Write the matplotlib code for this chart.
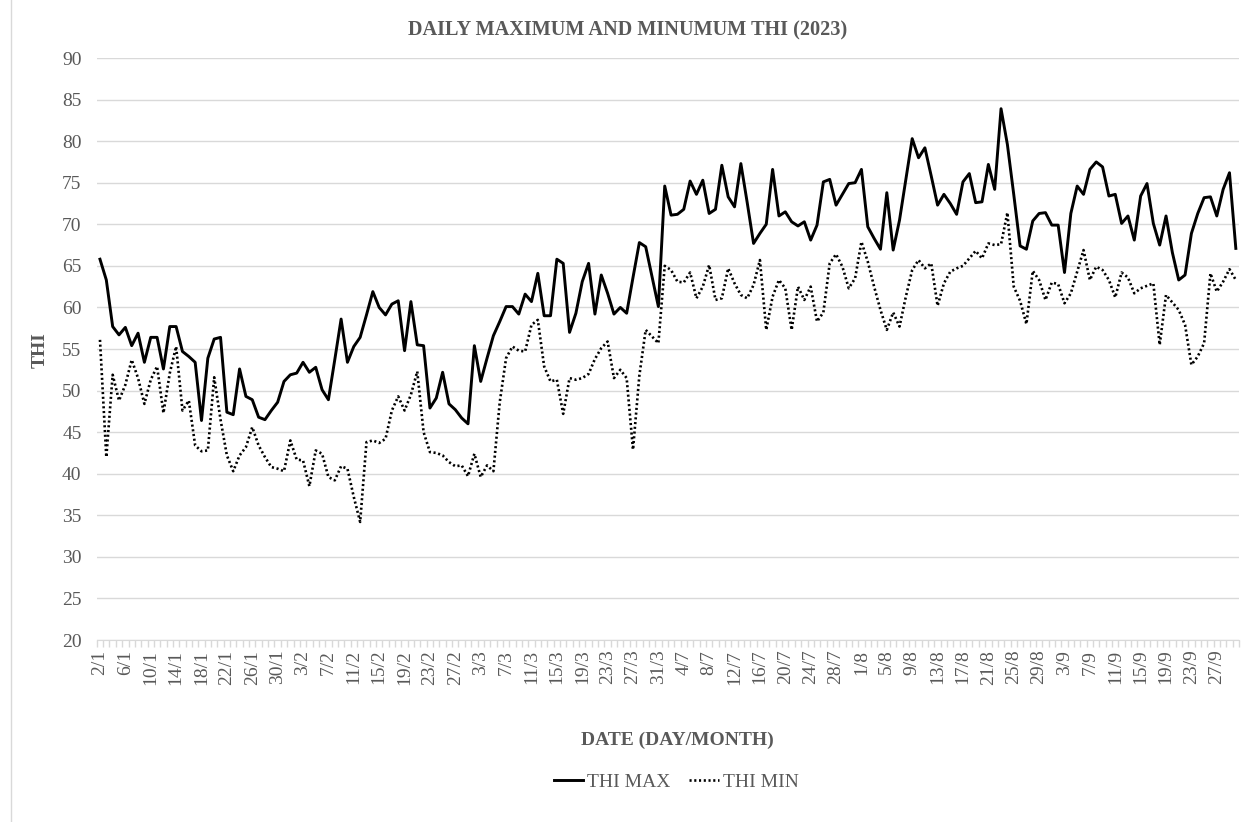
import numpy as np
import pandas as pd
import matplotlib
matplotlib.use('Agg')
import matplotlib.pyplot as plt
from matplotlib.lines import Line2D

# =============================================
# 1. DATA
# =============================================
# days covered: 2/1-31/3, 1/7-31/8, 1/9 and 3/9-30/9
date_segments = [('2023-01-02', '2023-03-31'),
                 ('2023-07-01', '2023-08-31'),
                 ('2023-09-01', '2023-09-01'),
                 ('2023-09-03', '2023-09-30')]

thi_max = [
    65.8, 63.3, 57.7, 56.7, 57.6, 55.4, 56.9, 53.4, 56.4, 56.4,
    52.6, 57.7, 57.7, 54.7, 54.1, 53.4, 46.4, 53.9, 56.2, 56.4,
    47.4, 47.1, 52.6, 49.3, 48.9, 46.8, 46.5, 47.6, 48.6, 51.1,
    51.9, 52.1, 53.4, 52.2, 52.8, 50.1, 48.9, 53.7, 58.6, 53.4,
    55.3, 56.4, 59.1, 61.9, 60.0, 59.1, 60.4, 60.8, 54.8, 60.7,
    55.5, 55.4, 47.9, 49.1, 52.2, 48.4, 47.7, 46.7, 46.0, 55.4,
    51.1, 53.9, 56.6, 58.3, 60.1, 60.1, 59.2, 61.6, 60.7, 64.1,
    59.0, 59.0, 65.8, 65.3, 57.0, 59.3, 63.1, 65.3, 59.2, 63.9,
    61.7, 59.2, 60.0, 59.3, 63.6, 67.8, 67.3, 63.7, 60.1, 74.6,
    71.1, 71.2, 71.8, 75.2, 73.6, 75.3, 71.3, 71.8, 77.1, 73.3,
    72.1, 77.3, 72.6, 67.7, 68.9, 70.0, 76.6, 71.0, 71.5, 70.3,
    69.8, 70.3, 68.1, 69.9, 75.1, 75.4, 72.3, 73.6, 74.9, 75.0,
    76.6, 69.7, 68.3, 67.0, 73.8, 66.9, 70.5, 75.4, 80.3, 78.0,
    79.2, 75.8, 72.3, 73.6, 72.5, 71.2, 75.1, 76.1, 72.6, 72.7,
    77.2, 74.2, 83.9, 79.6, 73.6, 67.4, 67.0, 70.4, 71.3, 71.4,
    69.9, 69.9, 64.2, 71.3, 74.6, 73.6, 76.6, 77.5, 76.9, 73.4,
    73.6, 70.1, 71.0, 68.1, 73.4, 74.9, 70.1, 67.5, 71.0, 66.6,
    63.3, 63.9, 68.9, 71.3, 73.2, 73.3, 71.0, 74.2, 76.2, 67.1,
]

thi_min = [
    56.1, 42.0, 51.9, 48.8, 50.7, 53.7, 51.5, 48.4, 51.3, 52.9,
    47.3, 52.1, 55.3, 47.6, 48.8, 43.4, 42.7, 42.8, 51.6, 46.5,
    42.2, 40.3, 42.2, 43.2, 45.6, 43.4, 42.0, 40.8, 40.6, 40.3,
    44.0, 41.7, 41.6, 38.5, 42.8, 42.4, 39.6, 39.2, 40.9, 40.6,
    37.2, 34.2, 43.8, 44.0, 43.7, 44.2, 47.6, 49.3, 47.6, 49.5,
    52.3, 45.0, 42.6, 42.5, 42.2, 41.4, 40.9, 41.0, 39.7, 42.4,
    39.6, 41.0, 40.3, 48.6, 53.9, 55.3, 54.8, 54.7, 57.9, 58.5,
    52.9, 51.1, 51.3, 47.2, 51.5, 51.3, 51.5, 52.0, 53.8, 55.1,
    55.9, 51.5, 52.5, 51.5, 42.9, 51.8, 57.3, 56.5, 55.7, 65.0,
    64.5, 63.1, 63.0, 64.2, 61.1, 62.5, 65.1, 60.9, 61.1, 64.7,
    62.9, 61.5, 61.1, 62.7, 65.7, 57.3, 61.3, 63.3, 62.3, 57.3,
    62.5, 60.9, 62.5, 58.3, 59.4, 65.3, 66.4, 64.9, 62.3, 63.5,
    67.9, 65.5, 62.5, 59.7, 57.3, 59.4, 57.7, 61.3, 64.5, 65.7,
    64.7, 65.3, 60.2, 62.9, 64.3, 64.7, 65.0, 65.9, 66.8, 65.9,
    67.7, 67.5, 67.6, 71.4, 62.5, 60.8, 58.0, 64.4, 63.3, 60.9,
    63.0, 62.8, 60.5, 61.7, 64.3, 66.9, 63.3, 64.9, 64.5, 63.3,
    61.2, 64.2, 63.6, 61.7, 62.3, 62.6, 62.9, 55.5, 61.5, 60.6,
    59.7, 57.9, 53.1, 54.1, 55.7, 64.1, 61.9, 63.1, 64.6, 63.3,
]

dates = pd.DatetimeIndex(np.concatenate(
    [pd.date_range(a, b).values for a, b in date_segments]))
date_labels = [f"{d.day}/{d.month}" for d in dates]
x = np.arange(len(dates))

# =============================================
# 2. STYLE
# =============================================
plt.rcParams['font.family'] = ['Liberation Serif', 'DejaVu Serif']
text_grey = '#595959'
grid_grey = '#d9d9d9'

fig = plt.figure(figsize=(12.45, 8.22), dpi=100)
# left edge of the chart frame
fig.lines.append(Line2D([10.5 / 1245, 10.5 / 1245], [0, 1], transform=fig.transFigure,
                        color=grid_grey, linewidth=1))

ax = fig.add_axes([96.8 / 1245, 1 - 640 / 822, 1142.2 / 1245, 582 / 822])

# =============================================
# 3. PLOT
# =============================================
ax.plot(x, thi_max, color='black', linewidth=2.1, label='THI MAX')
ax.plot(x, thi_min, color='black', linewidth=1.9,
        linestyle=(0, (0.8, 1.0)), label='THI MIN')

ax.set_xlim(-0.5, len(x) - 0.5)
ax.set_ylim(20, 90)
ax.set_yticks(np.arange(20, 91, 5))
ax.grid(axis='y', color=grid_grey, linewidth=1)
ax.set_axisbelow(True)

ax.set_xticks(x[::4])
ax.set_xticklabels(date_labels[::4], rotation=90)
ax.set_xticks(np.arange(-0.5, len(x), 1), minor=True)
ax.tick_params(axis='x', which='major', length=0, pad=7,
               labelsize=14, labelcolor=text_grey)
ax.tick_params(axis='x', which='minor', length=5, color=grid_grey, width=1)
ax.tick_params(axis='y', length=0, pad=11, labelsize=14, labelcolor=text_grey)

for side in ['top', 'right', 'left']:
    ax.spines[side].set_visible(False)
ax.spines['bottom'].set_color(grid_grey)

# titles and labels
fig.text(628 / 1245, 1 - 30 / 822, 'DAILY MAXIMUM AND MINUMUM THI (2023)',
         ha='center', va='center', fontsize=14.6, fontweight='bold', color=text_grey)
fig.text(40 / 1245, 1 - 350 / 822, 'THI', rotation=90, ha='center', va='center',
         fontsize=14, fontweight='bold', color=text_grey)
fig.text(677 / 1245, 1 - 740 / 822, 'DATE (DAY/MONTH)', ha='center', va='center',
         fontsize=14, fontweight='bold', color=text_grey)

leg = fig.legend(loc='center', bbox_to_anchor=(676 / 1245, 1 - 782 / 822), ncol=2,
                 frameon=False, fontsize=14, handlelength=1.5,
                 handletextpad=0.2, columnspacing=1.0)
for t in leg.get_texts():
    t.set_color(text_grey)

fig.savefig('out.png', dpi=100)
